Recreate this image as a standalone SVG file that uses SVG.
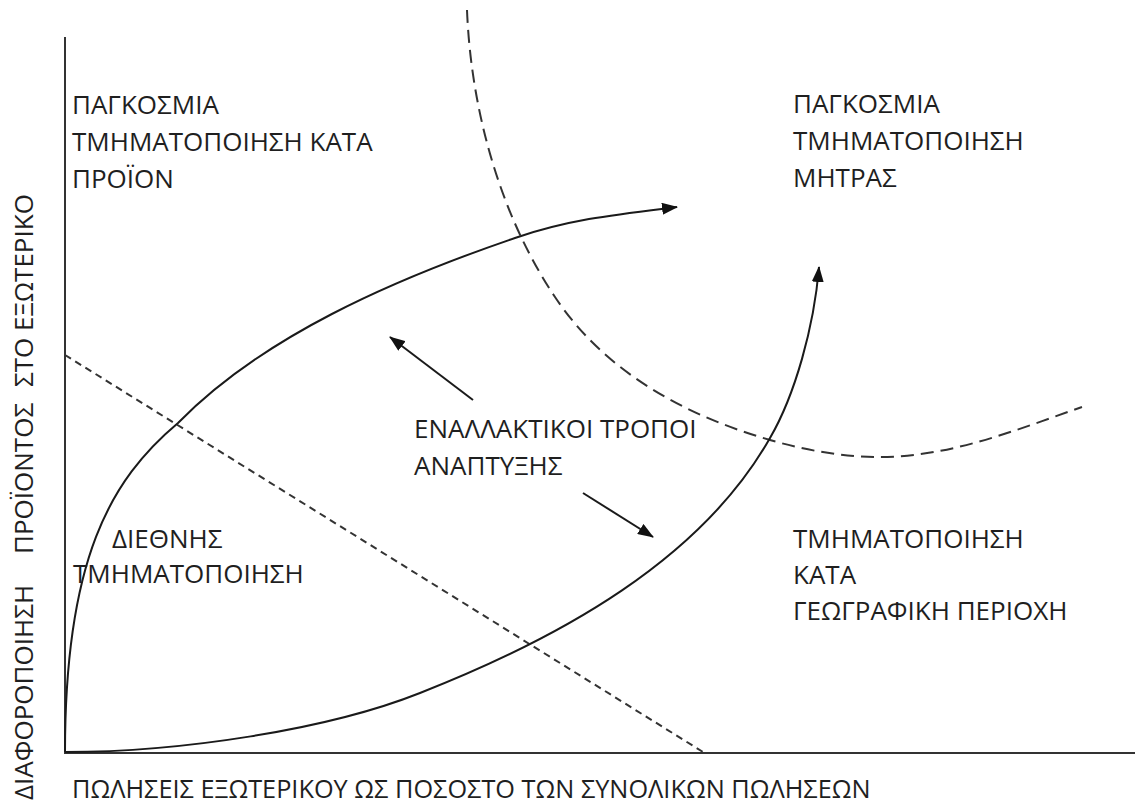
<svg xmlns="http://www.w3.org/2000/svg" width="1137" height="803" viewBox="0 0 1137 803">
<style>
  text { font-family: "Open Sans", "Liberation Sans", sans-serif; font-size: 26px; fill: #1f1f1f; }
  .axis { stroke: #333; stroke-width: 2; fill: none; }
  .curve { stroke: #1a1a1a; stroke-width: 2; fill: none; }
  .dash-long { stroke: #333; stroke-width: 2; fill: none; stroke-dasharray: 13 7; }
  .dash-short { stroke: #333; stroke-width: 2; fill: none; stroke-dasharray: 7 5; }
</style>
<defs>
  <marker id="ah" viewBox="0 0 16 12" refX="15" refY="6" markerWidth="16" markerHeight="12" markerUnits="userSpaceOnUse" orient="auto">
    <path d="M0,0 L16,6 L0,12 z" fill="#111"/>
  </marker>
</defs>
<rect width="1137" height="803" fill="#fff"/>
<g id="axes">
  <line class="axis" x1="65" y1="37" x2="65" y2="753"/>
  <line class="axis" x1="64" y1="753" x2="1135" y2="753"/>
</g>
<g id="boundaries">
  <line class="dash-short" x1="65" y1="355" x2="703" y2="752"/>
  <path class="dash-long" d="M467,10 C471,110 500,215 555,297 C605,372 684,415 770,440 C808,451 845,457 880,457 C950,457 1016,430 1082,407"/>
</g>
<g id="connectors">
  <path class="curve" marker-end="url(#ah)" d="M65,752 C65,560 110,480 178,423 C262,337 392,280 515,238 C570,219 620,214 677,207"/>
  <path class="curve" marker-end="url(#ah)" d="M65,752 C180,752 327,730 420,693 C560,638 701,560 770,438 C795,395 814,327 819,267"/>
  <line class="curve" marker-end="url(#ah)" x1="473" y1="400" x2="390" y2="337"/>
  <line class="curve" marker-end="url(#ah)" x1="583" y1="493" x2="653" y2="537"/>
</g>
<g id="label-product">
  <text x="72" y="114">ΠΑΓΚΟΣΜΙΑ</text>
  <text x="72" y="151">ΤΜΗΜΑΤΟΠΟΙΗΣΗ ΚΑΤΑ</text>
  <text x="72" y="188">ΠΡΟΪΟΝ</text>
</g>
<g id="label-matrix">
  <text x="793" y="113">ΠΑΓΚΟΣΜΙΑ</text>
  <text x="793" y="150">ΤΜΗΜΑΤΟΠΟΙΗΣΗ</text>
  <text x="793" y="187">ΜΗΤΡΑΣ</text>
</g>
<g id="label-alternatives">
  <text x="414" y="438">ΕΝΑΛΛΑΚΤΙΚΟΙ ΤΡΟΠΟΙ</text>
  <text x="414" y="475">ΑΝΑΠΤΥΞΗΣ</text>
</g>
<g id="label-international">
  <text x="112" y="548">ΔΙΕΘΝΗΣ</text>
  <text x="73" y="583">ΤΜΗΜΑΤΟΠΟΙΗΣΗ</text>
</g>
<g id="label-geographic">
  <text x="793" y="548">ΤΜΗΜΑΤΟΠΟΙΗΣΗ</text>
  <text x="793" y="584">ΚΑΤΑ</text>
  <text x="793" y="620">ΓΕΩΓΡΑΦΙΚΗ ΠΕΡΙΟΧΗ</text>
</g>
<g id="axis-labels">
  <text x="72" y="798" style="font-size:25.3px">ΠΩΛΗΣΕΙΣ ΕΞΩΤΕΡΙΚΟΥ ΩΣ ΠΟΣΟΣΤΟ ΤΩΝ ΣΥΝΟΛΙΚΩΝ ΠΩΛΗΣΕΩΝ</text>
  <g transform="translate(33,800) rotate(-90)">
    <text x="0" y="0">ΔΙΑΦΟΡΟΠΟΙΗΣΗ</text>
    <text x="246" y="0">ΠΡΟΪΟΝΤΟΣ</text>
    <text x="413" y="0">ΣΤΟ</text>
    <text x="469" y="0">ΕΞΩΤΕΡΙΚΟ</text>
  </g>
</g>
</svg>
